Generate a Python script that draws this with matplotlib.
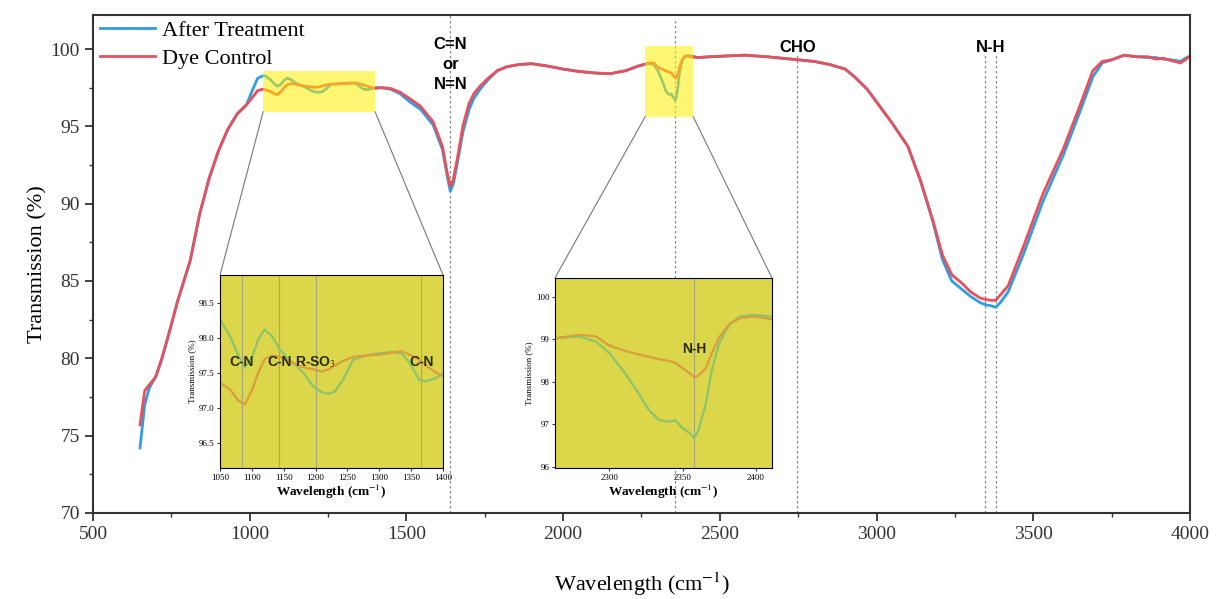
import matplotlib.pyplot as plt
from matplotlib.patches import Rectangle, ConnectionPatch

plt.rcParams['mathtext.fontset'] = 'stix'

# wavenumber grid (cm-1)
wn = [650, 665, 680, 700, 720, 745, 770, 810, 840, 870, 900, 930, 960, 990, 1010, 1025, 1040,
      1050, 1066, 1079, 1089, 1100, 1110, 1120, 1132, 1144, 1155, 1165, 1181, 1196, 1210, 1220,
      1230, 1243, 1259, 1280, 1300, 1320, 1335, 1348, 1363, 1374, 1390, 1400,
      1420, 1450, 1480, 1510, 1545, 1585, 1615, 1630, 1640, 1650, 1665, 1680, 1700, 1715, 1735,
      1760, 1790, 1820, 1860, 1900, 1950, 2000, 2050, 2100, 2150, 2200, 2240,
      2263, 2280, 2291, 2300, 2311, 2320, 2327, 2334, 2341, 2345, 2349, 2355, 2358, 2361, 2366,
      2370, 2375, 2382, 2389, 2398, 2411,
      2430, 2470, 2520, 2580, 2650, 2700, 2750, 2800, 2850, 2900, 2930, 2970, 3010, 3050, 3100,
      3140, 3180, 3210, 3240, 3270, 3300, 3330, 3350, 3365, 3380, 3395, 3420, 3470, 3530, 3595,
      3650, 3690, 3720, 3750, 3790, 3830, 3865, 3890, 3915, 3940, 3970, 3985, 4000]

after_treatment = [74.2, 77.0, 78.1, 78.8, 80.0, 81.8, 83.7, 86.3, 89.3, 91.6, 93.4, 94.8, 95.8, 96.4, 97.4, 98.1, 98.25,
                   98.26, 98.02, 97.74, 97.58, 97.72, 97.98, 98.12, 98.02, 97.83, 97.72, 97.64, 97.5, 97.31, 97.22, 97.2,
                   97.23, 97.4, 97.69, 97.75, 97.78, 97.8, 97.78, 97.64, 97.4, 97.38, 97.43, 97.5,
                   97.5, 97.4, 97.1, 96.6, 96.1, 95.1, 93.5, 91.8, 90.8, 91.3, 92.9, 94.6, 96.1, 96.8, 97.4,
                   98.0, 98.6, 98.85, 99.0, 99.05, 98.9, 98.7, 98.55, 98.45, 98.4, 98.6, 98.9,
                   99.03, 99.07, 98.95, 98.68, 98.2, 97.73, 97.34, 97.1, 97.06, 97.1, 96.94, 96.79, 96.67, 96.87, 97.5,
                   98.28, 98.91, 99.35, 99.54, 99.58, 99.54,
                   99.45, 99.5, 99.55, 99.6, 99.5, 99.4, 99.3, 99.2, 99.0, 98.7, 98.2, 97.4, 96.3, 95.2, 93.7,
                   91.5, 88.8, 86.4, 85.0, 84.5, 84.0, 83.6, 83.45, 83.4, 83.3, 83.6, 84.3, 86.8, 90.1, 93.1,
                   96.0, 98.2, 99.1, 99.3, 99.6, 99.5, 99.45, 99.45, 99.35, 99.3, 99.2, 99.4, 99.55]

dye_control = [75.7, 77.9, 78.3, 78.8, 80.0, 81.8, 83.7, 86.3, 89.3, 91.6, 93.4, 94.8, 95.8, 96.4, 96.9, 97.3, 97.4,
               97.36, 97.26, 97.1, 97.05, 97.25, 97.5, 97.7, 97.75, 97.73, 97.68, 97.64, 97.58, 97.55, 97.52, 97.55,
               97.6, 97.67, 97.73, 97.75, 97.76, 97.79, 97.81, 97.76, 97.69, 97.6, 97.5, 97.45,
               97.5, 97.45, 97.2, 96.8, 96.3, 95.3, 93.7, 92.0, 91.1, 91.6, 93.2, 95.0, 96.5, 97.1, 97.6,
               98.1, 98.6, 98.85, 99.0, 99.05, 98.9, 98.7, 98.55, 98.45, 98.4, 98.6, 98.9,
               99.03, 99.11, 99.07, 98.86, 98.73, 98.65, 98.59, 98.54, 98.49, 98.45, 98.35, 98.2, 98.11, 98.15, 98.33,
               98.68, 99.05, 99.37, 99.5, 99.54, 99.48,
               99.45, 99.5, 99.55, 99.6, 99.5, 99.4, 99.3, 99.2, 99.0, 98.7, 98.2, 97.4, 96.3, 95.2, 93.7,
               91.5, 88.9, 86.7, 85.4, 84.9, 84.3, 83.9, 83.8, 83.75, 83.75, 84.1, 84.7, 87.3, 90.6, 93.5,
               96.4, 98.6, 99.2, 99.3, 99.6, 99.5, 99.5, 99.35, 99.4, 99.25, 99.1, 99.3, 99.55]

# marked bands
band_lines = [1640, 2358, 2747, 3347, 3382]
inset1_lines = [1084, 1143, 1200, 1366]
inset1_labels = ['C-N', 'C-N', 'R-SO$_3$', 'C-N']

blue = '#2E9EE6'
red = '#E8505B'
serif = 'Liberation Serif'

fig = plt.figure(figsize=(12.17, 5.99), dpi=100)
ax = fig.add_axes([0.0764, 0.1436, 0.9014, 0.8314])

ax.plot(wn, after_treatment, color=blue, lw=2, label='After Treatment', zorder=2)
ax.plot(wn, dye_control, color=red, lw=2, label='Dye Control', zorder=2.1)

ax.set_xlim(500, 4000)
ax.set_ylim(70, 102.2)
ax.set_xticks(range(500, 4001, 500))
ax.set_yticks(range(70, 101, 5))
ax.set_xticks(range(750, 4000, 500), minor=True)
ax.set_yticks([72.5, 77.5, 82.5, 87.5, 92.5, 97.5], minor=True)
ax.tick_params(which='major', direction='out', length=6, width=1.3, labelsize=14, colors='#333333')
ax.tick_params(which='minor', direction='out', length=3, width=1.0, colors='#333333')
for lab in ax.get_xticklabels() + ax.get_yticklabels():
    lab.set_fontfamily(serif)
for s in ax.spines.values():
    s.set_linewidth(1.5)
    s.set_color('#333333')

ax.set_xlabel('Wavelength (cm$^{-1}$)', fontsize=16, family=serif, labelpad=20)
ax.set_ylabel('Transmission (%)', fontsize=16, family=serif, labelpad=2)

# dotted reference lines
tops = [102.2, 101.9, 99.7, 99.7, 99.7]
for x, t in zip(band_lines, tops):
    ax.vlines(x, 70, t, colors='#888888', linestyles=(0, (2, 2)), lw=0.9, zorder=1)

ax.text(1640, 99.0, 'C=N\nor\nN=N', ha='center', va='center', fontsize=12,
        fontweight='bold', family='Liberation Sans', linespacing=1.45)
ax.text(2747, 100.1, 'CHO', ha='center', va='center', fontsize=12, fontweight='bold', family='Liberation Sans')
ax.text(3365, 100.1, 'N-H', ha='center', va='center', fontsize=12, fontweight='bold', family='Liberation Sans')

# highlighted regions on the main plot
ax.add_patch(Rectangle((1043, 95.95), 357, 2.6, facecolor='#FFF000', alpha=0.55, edgecolor='none', zorder=3))
ax.add_patch(Rectangle((2262, 95.63), 153, 4.55, facecolor='#FFF000', alpha=0.55, edgecolor='none', zorder=3))

ax.legend(loc='upper left', bbox_to_anchor=(-0.012, 1.03), frameon=False,
          prop={'family': serif, 'size': 16}, handlelength=2.5, handletextpad=0.3, labelspacing=0.35)

inset_bg = '#DCD64A'
green = '#8CC46C'
orange = '#DA9E3C'


def make_inset(rect, xr, yr, lines, xticks, yticks, yfmt):
    ins = fig.add_axes(rect)
    ins.set_facecolor(inset_bg)
    for x in lines:
        ins.axvline(x, color='#A9A77A', lw=0.8, zorder=1)
    ins.plot(wn, after_treatment, color=green, lw=1.6, zorder=2)
    ins.plot(wn, dye_control, color=orange, lw=1.6, zorder=2)
    ins.set_xlim(*xr)
    ins.set_ylim(*yr)
    ins.set_xticks(xticks)
    ins.set_yticks(yticks)
    ins.set_yticklabels([yfmt.format(v) for v in yticks])
    ins.tick_params(labelsize=6.5, length=2, width=0.6, pad=2)
    for lab in ins.get_xticklabels() + ins.get_yticklabels():
        lab.set_fontfamily(serif)
    for s in ins.spines.values():
        s.set_linewidth(0.8)
    ins.set_xlabel('Wavelength (cm$^{-1}$)', fontsize=9.5, family=serif, fontweight='bold', labelpad=1)
    ins.set_ylabel('Transmission (%)', fontsize=6.5, family=serif, labelpad=2)
    return ins


ins1 = make_inset([0.1808, 0.2187, 0.1832, 0.3222], (1050, 1400), (96.14, 98.9), inset1_lines,
                  range(1050, 1401, 50), [96.5, 97.0, 97.5, 98.0, 98.5], '{:.1f}')
for x, lab in zip(inset1_lines, inset1_labels):
    ins1.text(x, 97.66, lab, ha='center', va='center', fontsize=10, fontweight='bold',
              family='Liberation Sans', color='#2B2B05')

ins2 = make_inset([0.456, 0.2187, 0.1783, 0.3172], (2263, 2411), (95.97, 100.45), [2358],
                  [2300, 2350, 2400], [96, 97, 98, 99, 100], '{:.0f}')
ins2.text(2358, 98.77, 'N-H', ha='center', va='center', fontsize=10, fontweight='bold',
          family='Liberation Sans', color='#2B2B05')

# zoom connector lines
for (xa, ya), ins, xb in [((1043, 95.95), ins1, 0), ((1400, 95.95), ins1, 1),
                          ((2262, 95.63), ins2, 0), ((2415, 95.63), ins2, 1)]:
    con = ConnectionPatch(xyA=(xa, ya), coordsA=ax.transData, xyB=(xb, 1), coordsB=ins.transAxes,
                          color='#777777', lw=0.8)
    fig.add_artist(con)

fig.savefig('out.png', dpi=100)
